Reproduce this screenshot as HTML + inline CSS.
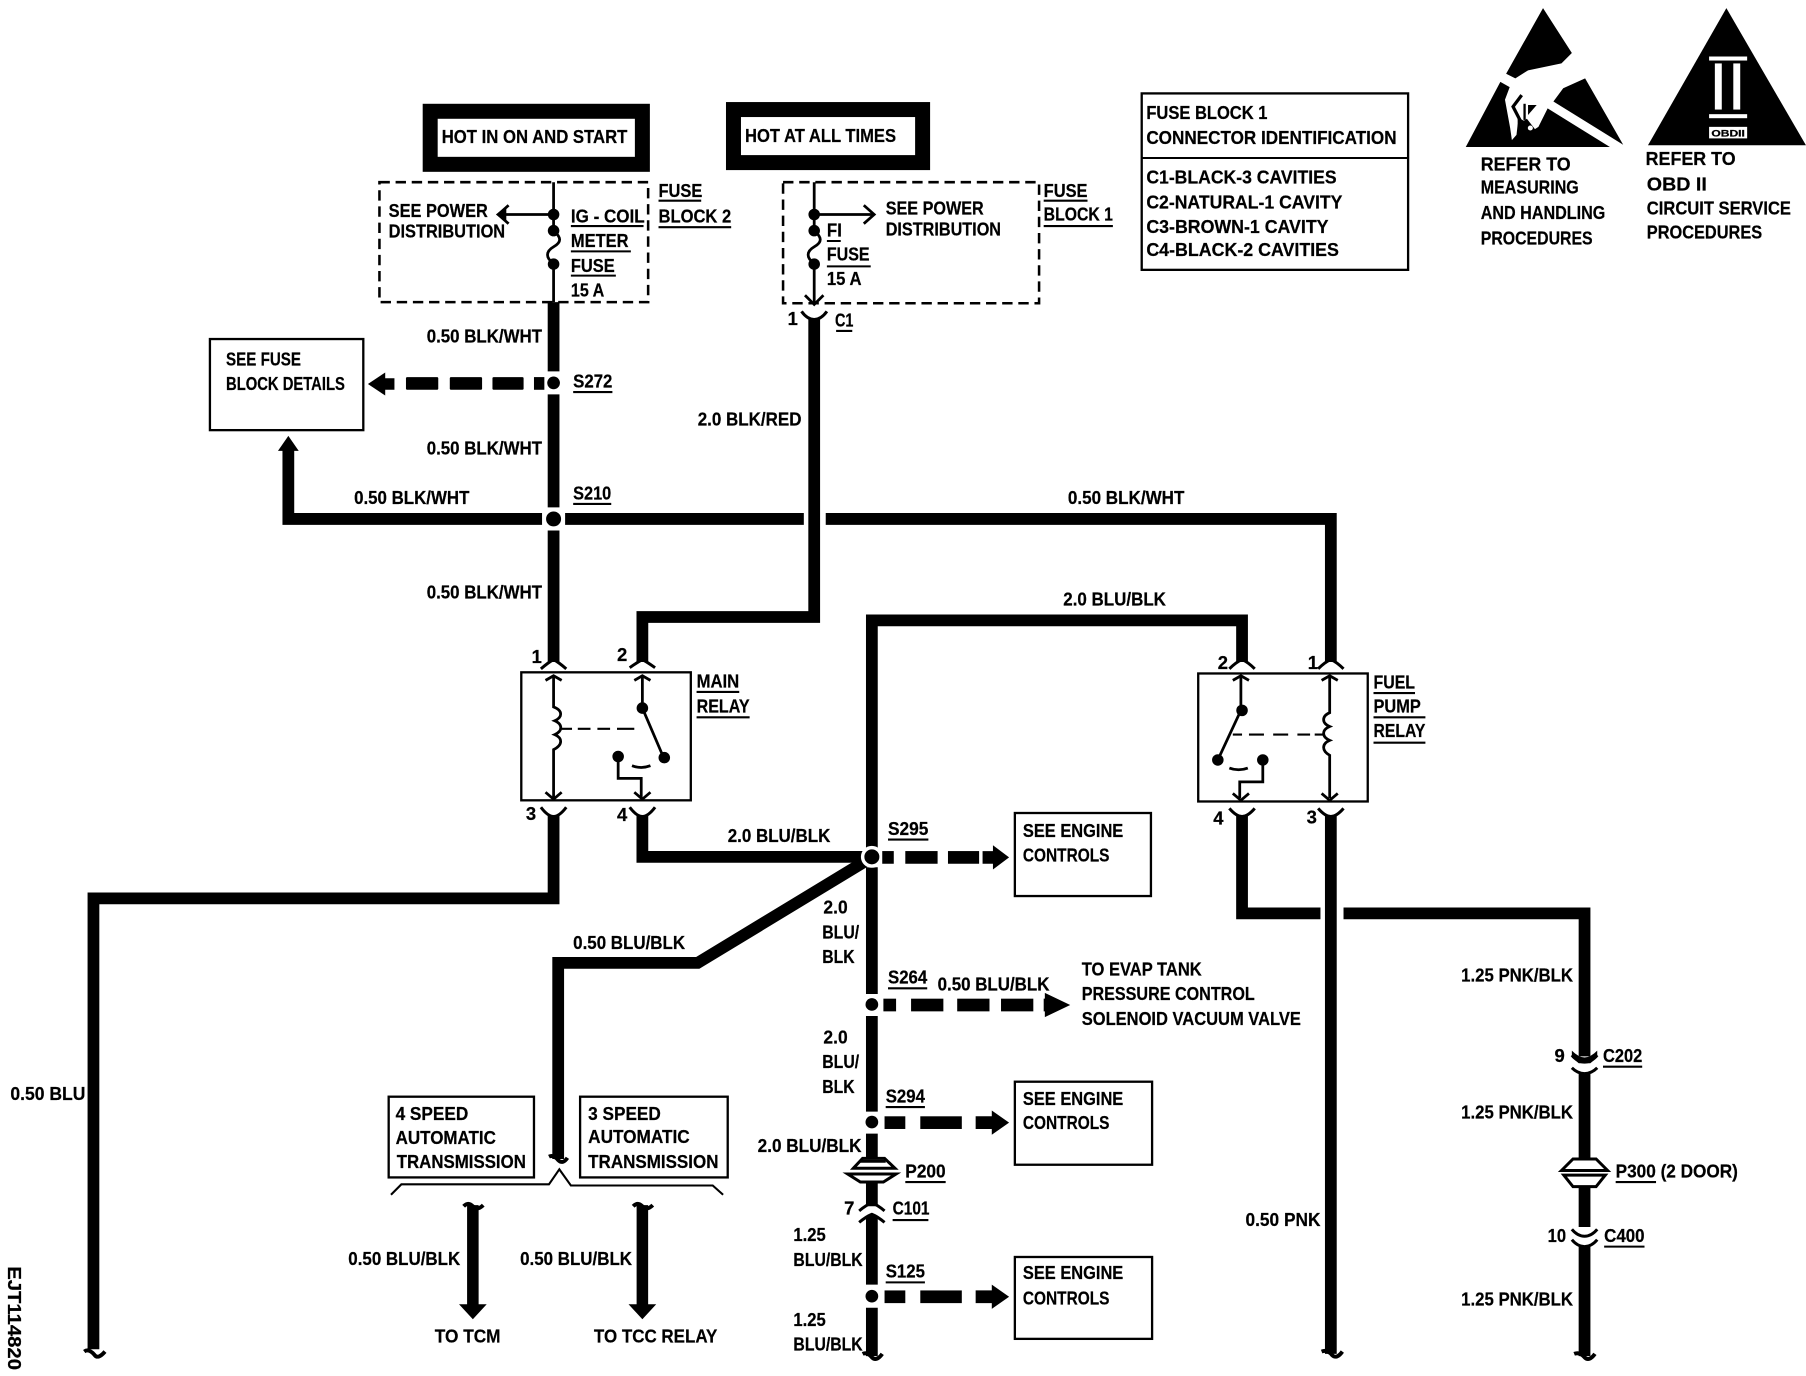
<!DOCTYPE html>
<html><head><meta charset="utf-8"><title>Fuel pump wiring diagram</title>
<style>
html,body{margin:0;padding:0;background:#fff;width:1806px;height:1376px;overflow:hidden}
svg{display:block}
text{font-family:"Liberation Sans",sans-serif;font-weight:bold;font-size:16px;fill:#000;stroke:#000;stroke-width:.2}
.w{fill:none;stroke:#000;stroke-width:10.2;stroke-linejoin:miter}
.t{fill:none;stroke:#000;stroke-width:2.4}
.u{stroke:#000;stroke-width:1.8}
.d{fill:none;stroke:#000;stroke-width:2.2;stroke-dasharray:9 5}
.b{fill:#fff;stroke:#000;stroke-width:2}
.c{fill:none;stroke:#000;stroke-width:2.6}
.e{fill:none;stroke:#000;stroke-width:3.4}
</style></head><body>
<svg xmlns="http://www.w3.org/2000/svg" width="1806" height="1376" viewBox="0 0 1566 1193.2">
<rect width="1566" height="1194" fill="#fff"/>

<!-- header boxes -->
<rect x="373" y="96.5" width="184" height="46" fill="#fff" stroke="#000" stroke-width="13"/>
<rect x="636" y="95" width="164" height="46" fill="#fff" stroke="#000" stroke-width="13"/>
<text x="383" y="124" textLength="161" lengthAdjust="spacingAndGlyphs">HOT IN ON AND START</text>
<text x="646" y="123" textLength="131" lengthAdjust="spacingAndGlyphs">HOT AT ALL TIMES</text>

<!-- dashed fuse blocks -->
<rect x="329" y="158" width="233" height="104" class="d"/>
<rect x="679" y="158" width="222" height="105" class="d"/>

<!-- fuse internal 1 -->
<path class="t" d="M480 158V186M480 186H434M480 226V262"/>
<path class="t" d="M480 186V200C487 206 487 210 480 214C473 218 473 224 480 228"/>
<path d="M430 186l9-7v14z"/>
<path class="t" d="M441 178l-9 8 9 8"/>
<circle cx="480" cy="186" r="5"/><circle cx="480" cy="200" r="5"/><circle cx="480" cy="229" r="5"/>
<!-- fuse internal 2 -->
<path class="t" d="M706 158V186M706 186H757M706 229V262"/>
<path class="t" d="M706 186V200C713 206 713 210 706 214C699 218 699 224 706 228"/>
<path class="t" d="M749 178l9 8-9 8M698 256l8 8 8-8"/>
<circle cx="706" cy="186" r="5"/><circle cx="706" cy="200" r="5"/><circle cx="706" cy="229" r="5"/>

<!-- main wires -->
<path class="w" d="M480 262V322M480 342V440M480 460V574"/>
<path class="w" d="M706 277V535H557V574"/>
<path class="w" d="M250 388V450H470M490 450H697M716 450H1154V574"/>
<path d="M250 378l9 13h-18z"/>
<path class="w" d="M756 735V538H1077V574"/>
<path class="w" d="M480 707V779H81V1170"/>
<path class="w" d="M557 707V743H748"/>
<path class="w" d="M750 747L605 835H484V1005"/>
<path class="w" d="M756 752V862M756 881V964M756 983V1005M756 1025V1046M756 1054V1114M756 1134V1176"/>
<path class="w" d="M1077 707V792H1145M1165 792H1374V916M1374 930V1006M1374 1026V1064M1374 1080V1176"/>
<path class="w" d="M1154 707V1174"/>

<!-- splices -->
<g fill="#000">
<circle cx="480" cy="332" r="5.500"/><circle cx="756" cy="871" r="5.500"/><circle cx="756" cy="973" r="5.500"/><circle cx="756" cy="1124" r="5.500"/>
</g>
<circle cx="480" cy="450" r="8" fill="#000" stroke="#fff" stroke-width="3"/>
<circle cx="756" cy="743" r="8" fill="#000" stroke="#fff" stroke-width="3"/>
<circle cx="480" cy="332" r="8" fill="none" stroke="#fff" stroke-width="2.500"/>

<!-- dashed heavy arrows -->
<g fill="#000">
<rect x="352" y="327" width="28" height="11" rx="1"/><rect x="390" y="327" width="28" height="11" rx="1"/><rect x="427" y="327" width="27" height="11" rx="1"/><rect x="463" y="327" width="9" height="11"/>
<path d="M319 333l15-10v5h8v10h-8v5z"/>
<rect x="765" y="738" width="10" height="11"/><rect x="785" y="738" width="28" height="11"/><rect x="822" y="738" width="27" height="11"/><path d="M852 738h9v-5l14 10.500-14 10.500v-5h-9z"/>
<rect x="766" y="866" width="11" height="11"/><rect x="790" y="866" width="28" height="11"/><rect x="830" y="866" width="28" height="11"/><rect x="868" y="866" width="28" height="11"/><path d="M906 866v-5l22 10.500-22 10.500v-5h-1v-11z"/>
<rect x="767" y="968" width="18" height="11"/><rect x="798" y="968" width="36" height="11"/><path d="M846 968h14v-5l15 10.500-15 10.500v-5h-14z"/>
<rect x="767" y="1119" width="18" height="11"/><rect x="798" y="1119" width="36" height="11"/><path d="M846 1119h14v-5l15 10.500-15 10.500v-5h-14z"/>
</g>

<!-- boxes -->
<rect x="182" y="294" width="133" height="79" class="b"/>
<rect x="990" y="81" width="231" height="153" class="b"/><path class="u" stroke-width="2" d="M990 137H1221"/>
<rect x="880" y="705" width="118" height="72" class="b"/>
<rect x="880" y="938" width="119" height="72" class="b"/>
<rect x="880" y="1090" width="119" height="71" class="b"/>
<rect x="337" y="951" width="126" height="70" class="b"/>
<rect x="503" y="951" width="128" height="70" class="b"/>

<!-- main relay -->
<rect x="452" y="583" width="147" height="111" class="b" stroke-width="2.400"/>
<path class="t" d="M480 586V613C488 616 488 622 481 625C488 628 488 634 481 637C488 640 488 646 480 650V692"/>
<path class="t" d="M473 590l7-4 7 4M473 687l7 6 7-6M550 590l7-4 7 4M550 687l7 6 7-6"/>
<path class="t" d="M557 586V614L575 656M536 656V675H556V692"/>
<path d="M487 632h9M501 632h11M518 632h11M535 632h15" class="u"/>
<path d="M548 664Q556 667 564 664" class="t"/>
<circle cx="557" cy="614" r="5"/><circle cx="536" cy="656" r="5"/><circle cx="576" cy="657" r="5"/>
<!-- fuel relay -->
<rect x="1039" y="584" width="147" height="111" class="b" stroke-width="2.400"/>
<path class="t" d="M1153 586V618C1146 621 1146 627 1153 630C1146 633 1146 639 1153 642C1146 645 1146 651 1153 655V692"/>
<path class="t" d="M1146 590l7-4 7 4M1146 688l7 6 7-6M1069 590l7-4 7 4M1069 688l7 6 7-6"/>
<path class="t" d="M1076 586V616L1056 659M1095 659V678H1075V692"/>
<path class="u" d="M1069 637h8M1083 637h13M1104 637h13M1125 637h11M1140 637h8"/>
<path class="t" d="M1066 666Q1074 669 1082 666"/>
<circle cx="1077" cy="616" r="5"/><circle cx="1056" cy="659" r="5"/><circle cx="1095" cy="659" r="5"/>

<!-- connectors -->
<g>
<path class="c" d="M469 580Q476 574 480 572Q484 574 491 580"/>
<path class="c" d="M546 579Q553 574 557 572Q561 574 568 579"/>
<path class="c" d="M1066 580Q1072 574 1077 572Q1082 574 1088 580"/>
<path class="c" d="M1143 580Q1149 574 1154 572Q1159 574 1165 580"/>
<path class="c" d="M469 700Q475 708 480 708Q485 708 491 700"/>
<path class="c" d="M546 700Q552 708 557 708Q562 708 568 700"/>
<path class="c" d="M1066 701Q1072 708 1077 708Q1082 708 1088 701"/>
<path class="c" d="M1143 701Q1149 708 1154 708Q1159 708 1165 701"/>
<path class="c" d="M695 270Q700 277 706 277Q712 277 717 270"/>
<path class="c" d="M745 1050Q751 1045 756 1043Q761 1045 767 1050"/>
<path class="c" d="M745 1060Q751 1055 756 1053Q761 1055 767 1060"/>
<path class="c" d="M1363 915Q1368 921 1374 921Q1380 921 1385 915"/>
<path class="c" d="M1363 926Q1368 931 1374 931Q1380 931 1385 926"/>
<path class="c" d="M1363 1066Q1368 1072 1374 1072Q1380 1072 1385 1066"/>
<path class="c" d="M1363 1075Q1368 1081 1374 1081Q1380 1081 1385 1075"/>
</g>
<path d="M1363 911q6 6 11 6t11-6v6l-6 5h-10l-6-5z"/>
<!-- wire ends -->
<g>
<path class="e" d="M73 1172Q77 1169 82 1175Q85 1179 91 1172"/>
<path class="e" d="M1146 1172Q1151 1170 1155 1175Q1159 1179 1164 1172"/>
<path class="e" d="M1365 1174Q1370 1172 1374 1177Q1378 1181 1383 1174"/>
<path class="e" d="M748 1174Q752 1172 756 1177Q760 1181 765 1174"/>
<path class="e" d="M476 1003Q480 1001 484 1006Q488 1010 492 1004"/>
<path class="e" d="M402 1046Q406 1042 410 1046Q414 1050 419 1045"/>
<path class="e" d="M549 1046Q553 1042 557 1046Q561 1050 566 1045"/>
</g>

<!-- pass-through symbols -->
<g>
<path d="M740 1013L748 1004.500H767L776 1013Z" fill="#fff" stroke="#000" stroke-width="2.600"/>
<path d="M746 1007H768" class="c" stroke-width="3"/>
<path d="M735 1018H777L766 1025H746Z" fill="#fff" stroke="#000" stroke-width="2.600"/>
<path d="M1354 1015L1364 1005H1384L1394 1015Z" fill="#fff" stroke="#000" stroke-width="2.600"/>
<path d="M1356 1019H1392L1384 1029H1364Z" fill="#fff" stroke="#000" stroke-width="2.600"/>
</g>

<!-- TO TCM / TCC arrows -->
<path d="M405 1045h10v86h7l-12 13-12-13h7z"/>
<path d="M552 1045h10v86h7l-12 13-12-13h7z"/>
<!-- bracket -->
<path fill="none" stroke="#000" stroke-width="1.800" d="M339 1036L348 1027H476L485 1014L495 1028H618L627 1036"/>

<!-- triangles -->
<path d="M1338 7L1363 46L1354 55L1325 61L1314 68L1306 64Z"/>
<path d="M1301 71L1271 127.500H1396L1342 94Z"/>
<path d="M1374.500 68L1355.500 76.500L1347 88L1407.500 125.500Z"/>
<path fill="#fff" d="M1309.500 74.500L1305 86.500L1309.500 111L1311 121.500L1315 117L1316 108L1324 103L1331 112L1334 110L1342 94L1330 76Z"/>
<path fill="none" stroke="#000" stroke-width="2.800" d="M1319.500 82.500L1312 92.500L1319.500 107"/>
<path fill="none" stroke="#000" stroke-width="2" d="M1322 90V104"/>
<path d="M1325 91H1332.500L1325 99.700Z"/>
<path d="M1316 102L1324 106L1330 112L1326 118H1316Z"/>
<circle cx="1327" cy="111" r="2.200" fill="#fff"/>
<path d="M1429 126L1497 7L1566 126Z"/>
<g fill="#fff">
<rect x="1482" y="49" width="33" height="3.500"/><rect x="1487" y="55" width="6" height="40"/><rect x="1503" y="55" width="6" height="40"/><rect x="1482" y="99" width="33" height="3.500"/><rect x="1482" y="110" width="33" height="10"/>
</g>
<text x="1484" y="118.500" style="font-size:8px" textLength="29" lengthAdjust="spacingAndGlyphs">OBDII</text>

<!-- underlines -->
<g class="u">
<path d="M495 196H558M495 218H547M495 239H534M571 174H608M571 197H634M717 209H729M717 231H755M905 174H943M905 196H965M725 287H739M497 340H531M497 437H530M604 600H641M604 622H650M1191 601H1227M1191 622H1236M1191 644H1236M770 728H805M770 857H804M768 960H802M785 1025H820M774 1058H805M768 1112H802M1390 925H1424M1401 1025H1436M1391 1081H1426"/>
</g>

<!-- text -->
<text x="337" y="188" textLength="86" lengthAdjust="spacingAndGlyphs">SEE POWER</text>
<text x="337" y="206" textLength="101" lengthAdjust="spacingAndGlyphs">DISTRIBUTION</text>
<text x="495" y="193" textLength="64" lengthAdjust="spacingAndGlyphs">IG - COIL</text>
<text x="495" y="214" textLength="50" lengthAdjust="spacingAndGlyphs">METER</text>
<text x="495" y="236" textLength="38" lengthAdjust="spacingAndGlyphs">FUSE</text>
<text x="495" y="257" textLength="29" lengthAdjust="spacingAndGlyphs">15 A</text>
<text x="571" y="171" textLength="38" lengthAdjust="spacingAndGlyphs">FUSE</text>
<text x="571" y="193" textLength="63" lengthAdjust="spacingAndGlyphs">BLOCK 2</text>
<text x="717" y="205" textLength="13" lengthAdjust="spacingAndGlyphs">FI</text>
<text x="717" y="226" textLength="37" lengthAdjust="spacingAndGlyphs">FUSE</text>
<text x="717" y="247" textLength="30" lengthAdjust="spacingAndGlyphs">15 A</text>
<text x="768" y="186" textLength="85" lengthAdjust="spacingAndGlyphs">SEE POWER</text>
<text x="768" y="204" textLength="100" lengthAdjust="spacingAndGlyphs">DISTRIBUTION</text>
<text x="905" y="171" textLength="38" lengthAdjust="spacingAndGlyphs">FUSE</text>
<text x="905" y="191" textLength="60" lengthAdjust="spacingAndGlyphs">BLOCK 1</text>
<text x="683" y="282">1</text>
<text x="724" y="283" textLength="16" lengthAdjust="spacingAndGlyphs">C1</text>
<text x="994" y="103" textLength="105" lengthAdjust="spacingAndGlyphs">FUSE BLOCK 1</text>
<text x="994" y="125" textLength="217" lengthAdjust="spacingAndGlyphs">CONNECTOR IDENTIFICATION</text>
<text x="994" y="159" textLength="165" lengthAdjust="spacingAndGlyphs">C1-BLACK-3 CAVITIES</text>
<text x="994" y="181" textLength="170" lengthAdjust="spacingAndGlyphs">C2-NATURAL-1 CAVITY</text>
<text x="994" y="202" textLength="158" lengthAdjust="spacingAndGlyphs">C3-BROWN-1 CAVITY</text>
<text x="994" y="222" textLength="167" lengthAdjust="spacingAndGlyphs">C4-BLACK-2 CAVITIES</text>
<text x="1284" y="148" textLength="78" lengthAdjust="spacingAndGlyphs">REFER TO</text>
<text x="1284" y="168" textLength="85" lengthAdjust="spacingAndGlyphs">MEASURING</text>
<text x="1284" y="190" textLength="108" lengthAdjust="spacingAndGlyphs">AND HANDLING</text>
<text x="1284" y="212" textLength="97" lengthAdjust="spacingAndGlyphs">PROCEDURES</text>
<text x="1427" y="143" textLength="78" lengthAdjust="spacingAndGlyphs">REFER TO</text>
<text x="1428" y="165" textLength="52" lengthAdjust="spacingAndGlyphs">OBD II</text>
<text x="1428" y="186" textLength="125" lengthAdjust="spacingAndGlyphs">CIRCUIT SERVICE</text>
<text x="1428" y="207" textLength="100" lengthAdjust="spacingAndGlyphs">PROCEDURES</text>
<text x="370" y="297" textLength="100" lengthAdjust="spacingAndGlyphs">0.50 BLK/WHT</text>
<text x="196" y="317" textLength="65" lengthAdjust="spacingAndGlyphs">SEE FUSE</text>
<text x="196" y="338" textLength="103" lengthAdjust="spacingAndGlyphs">BLOCK DETAILS</text>
<text x="497" y="336" textLength="34" lengthAdjust="spacingAndGlyphs">S272</text>
<text x="370" y="394" textLength="100" lengthAdjust="spacingAndGlyphs">0.50 BLK/WHT</text>
<text x="605" y="369" textLength="90" lengthAdjust="spacingAndGlyphs">2.0 BLK/RED</text>
<text x="307" y="437" textLength="100" lengthAdjust="spacingAndGlyphs">0.50 BLK/WHT</text>
<text x="497" y="433" textLength="33" lengthAdjust="spacingAndGlyphs">S210</text>
<text x="926" y="437" textLength="101" lengthAdjust="spacingAndGlyphs">0.50 BLK/WHT</text>
<text x="370" y="519" textLength="100" lengthAdjust="spacingAndGlyphs">0.50 BLK/WHT</text>
<text x="922" y="525" textLength="89" lengthAdjust="spacingAndGlyphs">2.0 BLU/BLK</text>
<text x="461" y="575">1</text><text x="535" y="573">2</text><text x="456" y="711">3</text><text x="535" y="712">4</text>
<text x="604" y="596" textLength="37" lengthAdjust="spacingAndGlyphs">MAIN</text>
<text x="604" y="618" textLength="46" lengthAdjust="spacingAndGlyphs">RELAY</text>
<text x="1056" y="580">2</text><text x="1134" y="580">1</text><text x="1052" y="715">4</text><text x="1133" y="714">3</text>
<text x="1191" y="597" textLength="36" lengthAdjust="spacingAndGlyphs">FUEL</text>
<text x="1191" y="618" textLength="41" lengthAdjust="spacingAndGlyphs">PUMP</text>
<text x="1191" y="639" textLength="45" lengthAdjust="spacingAndGlyphs">RELAY</text>
<text x="631" y="730" textLength="89" lengthAdjust="spacingAndGlyphs">2.0 BLU/BLK</text>
<text x="770" y="724" textLength="35" lengthAdjust="spacingAndGlyphs">S295</text>
<text x="887" y="726" textLength="87" lengthAdjust="spacingAndGlyphs">SEE ENGINE</text>
<text x="887" y="747" textLength="75" lengthAdjust="spacingAndGlyphs">CONTROLS</text>
<text x="714" y="792" textLength="21" lengthAdjust="spacingAndGlyphs">2.0</text>
<text x="713" y="814" textLength="32" lengthAdjust="spacingAndGlyphs">BLU/</text>
<text x="713" y="835" textLength="28" lengthAdjust="spacingAndGlyphs">BLK</text>
<text x="497" y="823" textLength="97" lengthAdjust="spacingAndGlyphs">0.50 BLU/BLK</text>
<text x="770" y="853" textLength="34" lengthAdjust="spacingAndGlyphs">S264</text>
<text x="813" y="859" textLength="97" lengthAdjust="spacingAndGlyphs">0.50 BLU/BLK</text>
<text x="938" y="846" textLength="104" lengthAdjust="spacingAndGlyphs">TO EVAP TANK</text>
<text x="938" y="867" textLength="150" lengthAdjust="spacingAndGlyphs">PRESSURE CONTROL</text>
<text x="938" y="889" textLength="190" lengthAdjust="spacingAndGlyphs">SOLENOID VACUUM VALVE</text>
<text x="714" y="905" textLength="21" lengthAdjust="spacingAndGlyphs">2.0</text>
<text x="713" y="926" textLength="32" lengthAdjust="spacingAndGlyphs">BLU/</text>
<text x="713" y="948" textLength="28" lengthAdjust="spacingAndGlyphs">BLK</text>
<text x="768" y="956" textLength="34" lengthAdjust="spacingAndGlyphs">S294</text>
<text x="887" y="958" textLength="87" lengthAdjust="spacingAndGlyphs">SEE ENGINE</text>
<text x="887" y="979" textLength="75" lengthAdjust="spacingAndGlyphs">CONTROLS</text>
<text x="9" y="954" textLength="65" lengthAdjust="spacingAndGlyphs">0.50 BLU</text>
<text x="343" y="971" textLength="63" lengthAdjust="spacingAndGlyphs">4 SPEED</text>
<text x="343" y="992" textLength="87" lengthAdjust="spacingAndGlyphs">AUTOMATIC</text>
<text x="344" y="1013" textLength="112" lengthAdjust="spacingAndGlyphs">TRANSMISSION</text>
<text x="510" y="971" textLength="63" lengthAdjust="spacingAndGlyphs">3 SPEED</text>
<text x="510" y="991" textLength="88" lengthAdjust="spacingAndGlyphs">AUTOMATIC</text>
<text x="510" y="1013" textLength="113" lengthAdjust="spacingAndGlyphs">TRANSMISSION</text>
<text x="657" y="999" textLength="90" lengthAdjust="spacingAndGlyphs">2.0 BLU/BLK</text>
<text x="785" y="1021" textLength="35" lengthAdjust="spacingAndGlyphs">P200</text>
<text x="732" y="1053">7</text>
<text x="774" y="1053" textLength="32" lengthAdjust="spacingAndGlyphs">C101</text>
<text x="688" y="1076" textLength="28" lengthAdjust="spacingAndGlyphs">1.25</text>
<text x="688" y="1098" textLength="60" lengthAdjust="spacingAndGlyphs">BLU/BLK</text>
<text x="768" y="1108" textLength="34" lengthAdjust="spacingAndGlyphs">S125</text>
<text x="688" y="1150" textLength="28" lengthAdjust="spacingAndGlyphs">1.25</text>
<text x="688" y="1171" textLength="60" lengthAdjust="spacingAndGlyphs">BLU/BLK</text>
<text x="887" y="1109" textLength="87" lengthAdjust="spacingAndGlyphs">SEE ENGINE</text>
<text x="887" y="1131" textLength="75" lengthAdjust="spacingAndGlyphs">CONTROLS</text>
<text x="302" y="1097" textLength="97" lengthAdjust="spacingAndGlyphs">0.50 BLU/BLK</text>
<text x="451" y="1097" textLength="97" lengthAdjust="spacingAndGlyphs">0.50 BLU/BLK</text>
<text x="377" y="1164" textLength="57" lengthAdjust="spacingAndGlyphs">TO TCM</text>
<text x="515" y="1164" textLength="107" lengthAdjust="spacingAndGlyphs">TO TCC RELAY</text>
<text x="1267" y="851" textLength="97" lengthAdjust="spacingAndGlyphs">1.25 PNK/BLK</text>
<text x="1348" y="921">9</text>
<text x="1390" y="921" textLength="34" lengthAdjust="spacingAndGlyphs">C202</text>
<text x="1267" y="970" textLength="97" lengthAdjust="spacingAndGlyphs">1.25 PNK/BLK</text>
<text x="1401" y="1021" textLength="106" lengthAdjust="spacingAndGlyphs">P300 (2 DOOR)</text>
<text x="1080" y="1063" textLength="65" lengthAdjust="spacingAndGlyphs">0.50 PNK</text>
<text x="1342" y="1077" textLength="16" lengthAdjust="spacingAndGlyphs">10</text>
<text x="1391" y="1077" textLength="35" lengthAdjust="spacingAndGlyphs">C400</text>
<text x="1267" y="1132" textLength="97" lengthAdjust="spacingAndGlyphs">1.25 PNK/BLK</text>
<text transform="translate(7 1098) rotate(90)" textLength="90" lengthAdjust="spacingAndGlyphs">EJT114820</text>
</svg>
</body></html>
